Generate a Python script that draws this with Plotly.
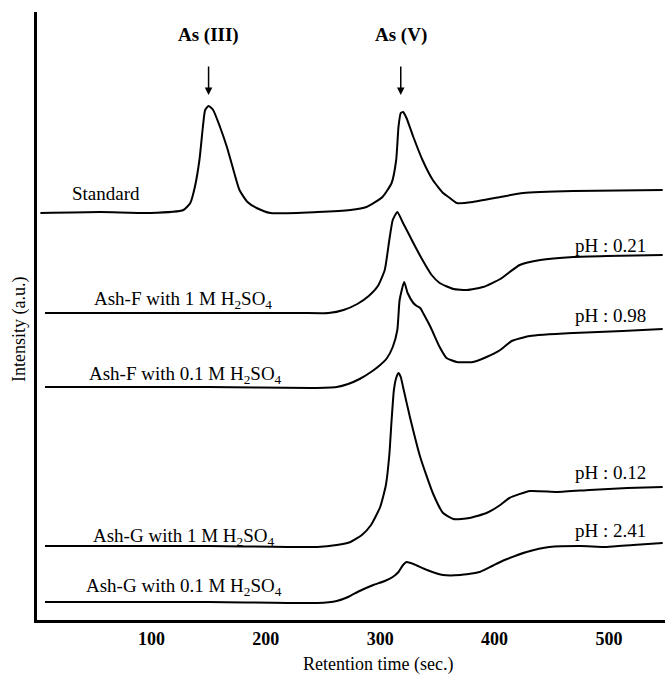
import plotly.graph_objects as go

# Retention time (s) and intensity (a.u., stacked offsets included)
std_x = [3, 55, 99, 128, 134, 138, 142, 145, 147, 150, 154, 160, 166, 171, 177, 184, 192, 204, 245, 274, 288, 302, 310, 314, 316, 318, 320, 323, 329, 337, 346, 355, 361, 367, 381, 405, 425, 469, 547]
std_y = [407, 408, 407, 410, 417, 433, 460, 493, 510, 514, 510, 493, 473, 453, 430, 418, 412, 407, 408, 410, 413, 423, 437, 460, 493, 507, 508, 502, 483, 460, 440, 427, 422, 417, 418, 423, 427, 429, 430]

f1_x = [7, 150, 230, 255, 268, 280, 290, 298, 304, 308, 311, 315, 320, 329, 337, 345, 352, 364, 376, 390, 405, 422, 440, 469, 498, 547]
f1_y = [307, 307, 307, 307, 310, 316, 324, 334, 350, 380, 400, 408, 397, 377, 360, 345, 337, 331, 330, 333, 341, 355, 360, 363, 364, 365]

f01_x = [7, 150, 240, 262, 272, 282, 292, 300, 306, 311, 315, 317, 321, 324, 329, 332, 335, 338, 344, 352, 358, 367, 381, 393, 405, 415, 431, 469, 512, 547]
f01_y = [233, 233, 232, 233, 236, 241, 248, 255, 262, 273, 290, 320, 338, 327, 317, 314, 312, 306, 293, 273, 262, 258, 258, 263, 270, 279, 284, 287, 289, 291]

g1_x = [7, 150, 245, 262, 274, 284, 292, 300, 305, 308, 310, 312, 314, 316, 318, 320, 326, 335, 346, 355, 364, 378, 393, 405, 413, 431, 455, 483, 516, 547]
g1_y = [74, 74, 73, 75, 78, 85, 95, 113, 135, 165, 200, 230, 242, 247, 243, 233, 203, 163, 127, 107, 101, 102, 107, 115, 122, 129, 128, 130, 132, 133]

g01_x = [7, 150, 245, 262, 272, 282, 294, 304, 311, 316, 320, 323, 329, 341, 355, 370, 387, 398, 405, 411, 428, 448, 475, 498, 521, 547]
g01_y = [18, 18, 17, 19, 23, 29, 35, 39, 43, 48, 55, 58, 56, 50, 45, 45, 48, 54, 58, 61, 68, 73, 74, 73, 75, 77]

x_ticks = [100, 200, 300, 400, 500]

series_labels = ["Standard", "Ash-F with 1 M H<sub>2</sub>SO<sub>4</sub>", "Ash-F with 0.1 M H<sub>2</sub>SO<sub>4</sub>",
                 "Ash-G with 1 M H<sub>2</sub>SO<sub>4</sub>", "Ash-G with 0.1 M H<sub>2</sub>SO<sub>4</sub>"]
label_x = [29, 48, 44, 47, 41]
label_y = [427, 320, 245, 83, 33]
ph_labels = ["pH : 0.21", "pH : 0.98", "pH : 0.12", "pH : 2.41"]
ph_y = [375, 305, 148, 90]
peak_names = ["As (III)", "As (V)"]
peak_x = [150, 318]

FONT = "Liberation Serif"
fig = go.Figure()
for xs, ys in [(std_x, std_y), (f1_x, f1_y), (f01_x, f01_y), (g1_x, g1_y), (g01_x, g01_y)]:
    fig.add_trace(go.Scatter(x=xs, y=ys, mode="lines",
                             line=dict(color="black", width=2, shape="spline", smoothing=0.5),
                             showlegend=False, hoverinfo="skip"))

for t, lx, ly in zip(series_labels, label_x, label_y):
    fig.add_annotation(x=lx, y=ly, text=t, showarrow=False, xanchor="left", yanchor="middle",
                       font=dict(family=FONT, size=19, color="black"))
for t, ly in zip(ph_labels, ph_y):
    fig.add_annotation(x=534, y=ly, text=t, showarrow=False, xanchor="right", yanchor="middle",
                       font=dict(family=FONT, size=19, color="black"))
for t, px in zip(peak_names, peak_x):
    fig.add_annotation(x=px, y=585, text="<b>" + t + "</b>", showarrow=False, xanchor="center", yanchor="middle",
                       font=dict(family=FONT, size=19, color="black"))
    fig.add_annotation(x=px, y=525, ax=px, ay=555, axref="x", ayref="y", text="", showarrow=True,
                       arrowhead=2, arrowsize=1, arrowwidth=1.5, arrowcolor="black")

# axis titles
fig.add_annotation(xref="paper", yref="paper", x=0.543, y=-0.073, text="Retention time (sec.)",
                   showarrow=False, xanchor="center", yanchor="middle",
                   font=dict(family=FONT, size=18, color="black"))
fig.add_annotation(xref="paper", yref="paper", x=-0.027, y=0.477, text="Intensity (a.u.)", textangle=-90,
                   showarrow=False, xanchor="center", yanchor="middle",
                   font=dict(family=FONT, size=18, color="black"))

fig.update_layout(
    width=665, height=676, margin=dict(l=37, r=0, t=12, b=56),
    paper_bgcolor="white", plot_bgcolor="white",
    font=dict(family=FONT, size=18, color="black"),
    xaxis=dict(range=[0, 549], showgrid=False, zeroline=False, showline=True, linecolor="black", linewidth=3,
               tickvals=x_ticks, ticks="", tickfont=dict(family=FONT, size=18, color="black", weight="bold")),
    yaxis=dict(range=[0, 608], showgrid=False, zeroline=False, showline=True, linecolor="black", linewidth=3,
               showticklabels=False, ticks=""),
)
fig.write_html("out.html")
